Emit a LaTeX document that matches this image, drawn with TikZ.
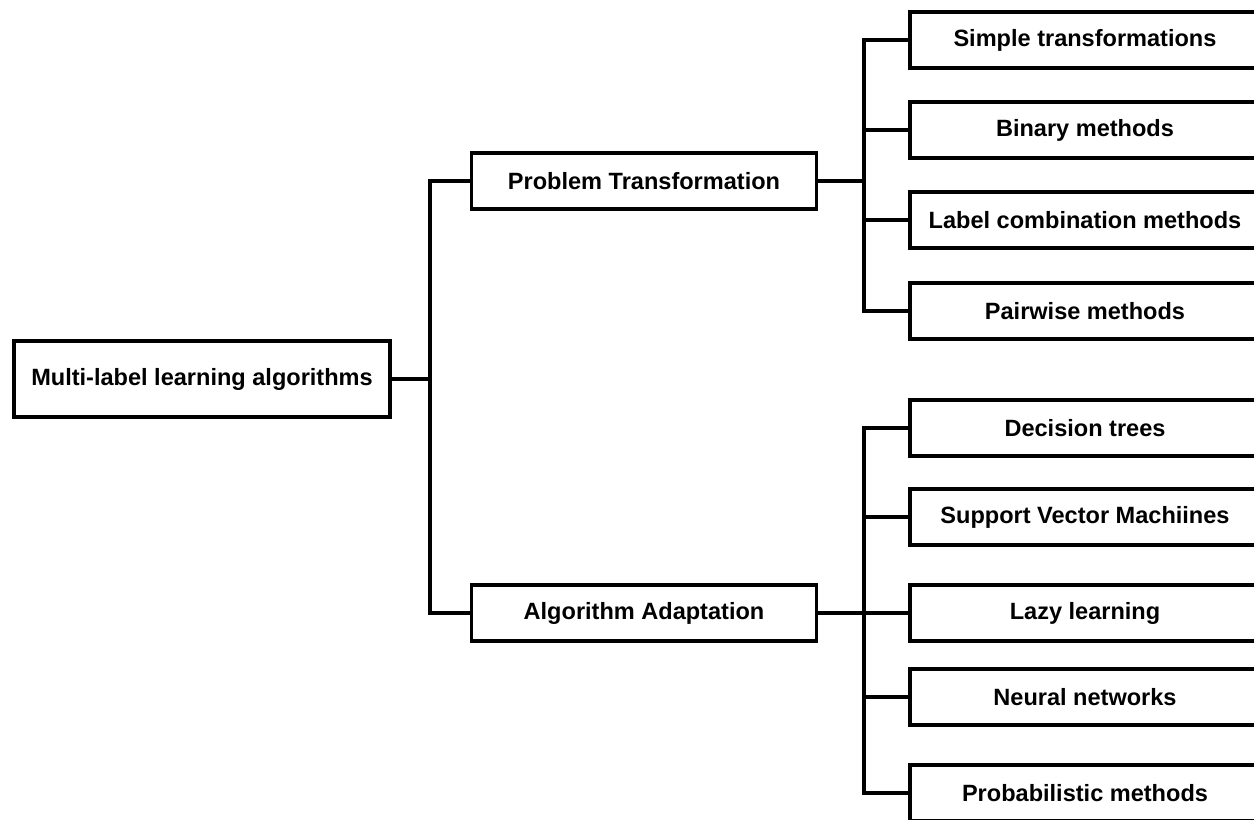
\documentclass[tikz,border=0pt]{standalone}
\usepackage{fontspec}
\setmainfont{Liberation Sans}
\usepackage{tikz}
\usetikzlibrary{positioning}

\tikzset{
    box/.style={draw,rectangle,line width=2.2pt,minimum width=6.9cm,minimum height=1.12cm,
        font=\fontsize{13.4}{16}\selectfont\bfseries},
    rootbox/.style={box,minimum width=7.52cm,minimum height=1.52cm},
    leafbox/.style={box,minimum width=7.0cm},
    link/.style={line width=2.2pt}
}

\begin{document}
\begin{tikzpicture}[x=0.02cm,y=-0.02cm]
    \useasboundingbox (0,0) rectangle (1254,820);
    \clip (0,0) rectangle (1254,820);
    \path
        (202,379)    node [rootbox]  (mll) {Multi-label learning algorithms}
        (644,181)    node [box]  (pt) {Problem Transformation}
        (644,613)    node [box]  (aa) {Algorithm Adaptation}
        (1085,40)    node [leafbox]  (simple) {Simple transformations}
        (1085,130)   node [leafbox]  (binary) {Binary methods}
        (1085,220)   node [leafbox]  (labelcomb) {Label combination methods}
        (1085,311)   node [leafbox]  (pairwise) {Pairwise methods}
        (1085,428)   node [leafbox]  (dtree) {Decision trees}
        (1085,517)   node [leafbox]  (svm) {Support Vector Machiines}
        (1085,613)   node [leafbox]  (lazy) {Lazy learning}
        (1085,697)   node [leafbox]  (neural) {Neural networks}
        (1085,793)   node [leafbox]  (prob) {Probabilistic methods}
     ;
    % junction points
    \coordinate (jroot) at (430,379);
    \coordinate (jpt) at (864,181);
    \coordinate (jaa) at (864,613);
    \draw [link] (mll) -- (jroot);
    \draw [link] (pt.west) -| (jroot) |- (aa.west);
    \draw [link] (pt) -- (jpt);
    \draw [link] (simple.west) -| (jpt) |- (pairwise.west);
    \draw [link] (jpt |- binary) -- (binary.west);
    \draw [link] (jpt |- labelcomb) -- (labelcomb.west);
    \draw [link] (aa) -- (jaa);
    \draw [link] (dtree.west) -| (jaa) |- (prob.west);
    \draw [link] (jaa |- svm) -- (svm.west);
    \draw [link] (jaa) -- (lazy.west);
    \draw [link] (jaa |- neural) -- (neural.west);
\end{tikzpicture}
\end{document}
